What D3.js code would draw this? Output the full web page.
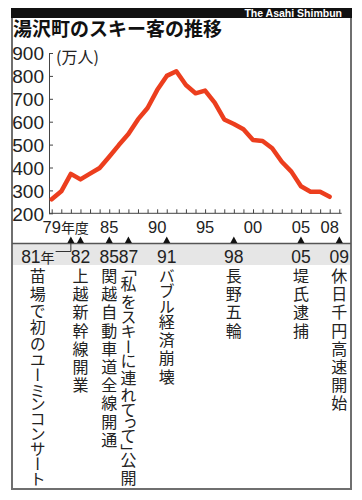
<!DOCTYPE html>
<html lang="ja">
<head>
<meta charset="utf-8">
<title>湯沢町のスキー客の推移</title>
<style>
  body { margin: 0; background: #fff; }
  .jp { font-family: "Noto Sans CJK JP", sans-serif; }
  .num { font-family: "Liberation Sans", Arial, sans-serif; }
  .narrow { font-family: "Liberation Sans Narrow", "Liberation Sans", Arial, sans-serif; }
  .vtext { writing-mode: vertical-rl; font-feature-settings: "vpal"; }
</style>
</head>
<body>
<div id="chart"></div>
<script src="https://d3js.org/d3.v7.min.js"></script>
<script>
// スキー客数（万人）, 年度
var years = [1979, 1980, 1981, 1982, 1983, 1984, 1985, 1986, 1987, 1988,
             1989, 1990, 1991, 1992, 1993, 1994, 1995, 1996, 1997, 1998,
             1999, 2000, 2001, 2002, 2003, 2004, 2005, 2006, 2007, 2008];
var visitors = [261, 296, 372, 348, 373, 398, 447, 498, 546, 610,
                660, 738, 800, 820, 760, 724, 736, 683, 610, 590,
                567, 520, 516, 484, 425, 382, 318, 294, 294, 272];

var yTicks = [200, 300, 400, 500, 600, 700, 800, 900];
var xTickYears = [1979, 1985, 1990, 1995, 2000, 2005, 2008];
var xTickLabels = ["79", "85", "90", "95", "00", "05", "08"];

var eventYears = [1981, 1982, 1985, 1987, 1991, 1998, 2005, 2009];
var eventLabels = ["81", "82", "85", "87", "91", "98", "05", "09"];
var eventTexts = ["苗場で初のユーミンコンサート", "上越新幹線開業", "関越自動車道全線開通",
                  "「私をスキーに連れてって」公開", "バブル経済崩壊", "長野五輪", "堤氏逮捕",
                  "休日千円高速開始"];

var width = 362, height = 500;

var svg = d3.select("#chart").append("svg")
    .attr("width", width)
    .attr("height", height);

var x = d3.scaleLinear().domain([1979, 2009]).range([51.7, 339.3]);
var y = d3.scaleLinear().domain([200, 900]).range([213.3, 53]);

// frame
svg.append("rect")
    .attr("x", 12).attr("y", 9).attr("width", 339).attr("height", 480)
    .attr("fill", "none").attr("stroke", "#6f6f6f").attr("stroke-width", 2);

svg.append("rect")
    .attr("x", 11).attr("y", 8).attr("width", 341).attr("height", 10)
    .attr("fill", "#111");

svg.append("text")
    .attr("class", "num")
    .attr("x", 342).attr("y", 16.5)
    .attr("text-anchor", "end")
    .attr("fill", "#fff")
    .attr("font-size", 10.5)
    .attr("font-weight", "bold")
    .text("The Asahi Shimbun");

svg.append("text")
    .attr("class", "jp")
    .attr("x", 13).attr("y", 36)
    .attr("font-size", 19)
    .attr("font-weight", "bold")
    .attr("fill", "#111")
    .text("湯沢町のスキー客の推移");

// y axis
var yAxis = svg.append("g")
    .attr("transform", "translate(49,0)")
    .call(d3.axisLeft(y).tickValues(yTicks).tickSize(-4).tickSizeOuter(0).tickPadding(5));
yAxis.selectAll("path, line").attr("stroke", "#444").attr("stroke-width", 1);
yAxis.selectAll("text")
    .attr("class", "narrow")
    .attr("font-size", 19)
    .attr("fill", "#222")
    .attr("dy", "0.36em");

svg.append("text")
    .attr("class", "jp")
    .attr("x", 56).attr("y", 63)
    .attr("font-size", 16)
    .attr("fill", "#222")
    .text("(万人)");

// x axis
var xAxis = svg.append("g")
    .attr("transform", "translate(0," + y(200) + ")")
    .call(d3.axisBottom(x).tickValues(d3.range(1979, 2010)).tickSize(-4).tickSizeOuter(0).tickFormat(""));
xAxis.select(".domain").remove();
xAxis.selectAll("line").attr("stroke", "#444");
xAxis.append("line")
    .attr("x1", 49).attr("x2", x(2009.25))
    .attr("stroke", "#444");

var xLab = svg.append("g");
xTickYears.forEach(function(yr, i) {
  var t = xLab.append("text")
      .attr("class", "num")
      .attr("x", x(yr)).attr("y", 233)
      .attr("text-anchor", "middle")
      .attr("font-size", 16.5)
      .attr("fill", "#222")
      .text(xTickLabels[i]);
  if (i === 0) {
    var w = t.node().getComputedTextLength();
    xLab.append("text")
        .attr("class", "jp")
        .attr("x", x(yr) + w / 2).attr("y", 233)
        .attr("font-size", 14)
        .attr("fill", "#222")
        .text("年度");
  }
});

// line
var line = d3.line()
    .x(function(d, i) { return x(years[i]); })
    .y(function(d) { return y(d); });

svg.append("path")
    .datum(visitors)
    .attr("d", line)
    .attr("fill", "none")
    .attr("stroke", "#ec3e1e")
    .attr("stroke-width", 4.5)
    .attr("stroke-linejoin", "round")
    .attr("stroke-linecap", "round");

// events band
svg.append("rect")
    .attr("x", 13).attr("y", 244).attr("width", 337).attr("height", 21)
    .attr("fill", "#e6e6e6");
svg.append("line")
    .attr("x1", 12).attr("x2", 351).attr("y1", 243.5).attr("y2", 243.5)
    .attr("stroke", "#555").attr("stroke-width", 1.5);

var kanji = /[\u4e00-\u9fff]/;

var ev = svg.append("g");
eventYears.forEach(function(yr, i) {
  var cx = x(yr);
  ev.append("path")
      .attr("d", "M" + (cx - 3.5) + ",243 L" + cx + ",236.5 L" + (cx + 3.5) + ",243 Z")
      .attr("fill", "#111");

  // the first event is set aside to the left with a connector
  var lx = i === 0 ? cx - 33 : cx;
  var lab = ev.append("text")
      .attr("class", "num")
      .attr("x", lx).attr("y", 263)
      .attr("text-anchor", "middle")
      .attr("font-size", 17.5)
      .attr("fill", "#222");
  lab.append("tspan").text(eventLabels[i]);
  if (i === 0) {
    lab.append("tspan").attr("class", "jp").attr("font-size", 14).text("年");
    var lw = lab.node().getComputedTextLength();
    ev.append("path")
        .attr("d", "M" + (lx + lw / 2 + 1) + ",251.5 H" + cx + " V243")
        .attr("fill", "none")
        .attr("stroke", "#333")
        .attr("stroke-width", 1);
  }

  // vertical caption; kanji get a little more room than kana
  var vt = ev.append("text")
      .attr("class", "jp vtext")
      .attr("x", lx).attr("y", 268)
      .attr("font-size", 16)
      .attr("fill", "#222");
  Array.from(eventTexts[i]).forEach(function(ch) {
    vt.append("tspan")
        .attr("letter-spacing", kanji.test(ch) ? 2.2 : 0)
        .text(ch);
  });
});
</script>
</body>
</html>
